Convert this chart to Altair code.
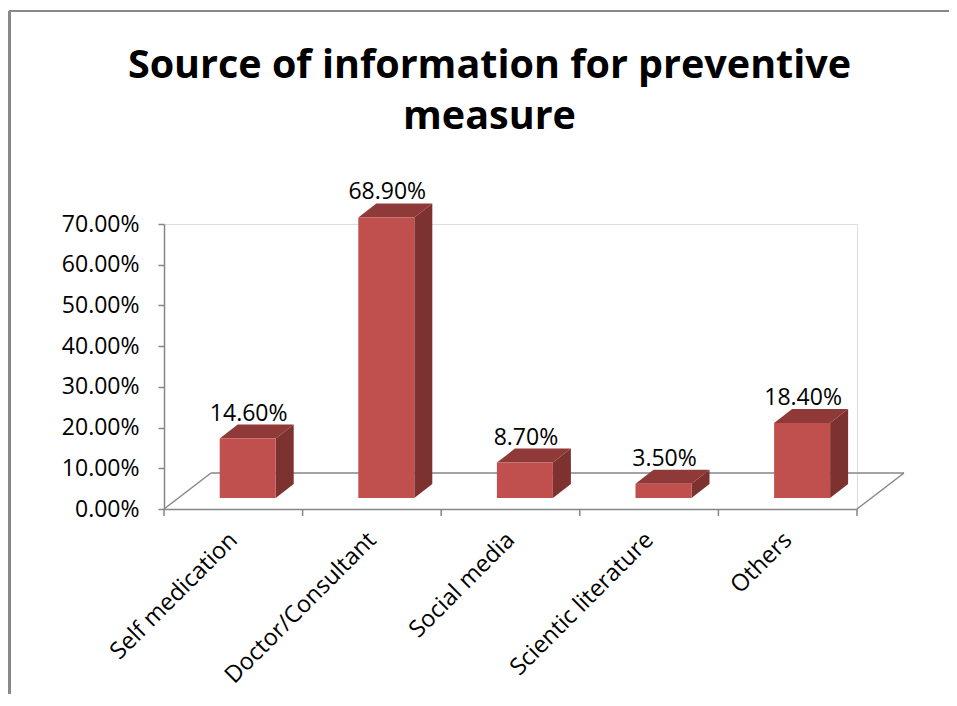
import json
import altair as alt
import pandas as pd

# ---------------- data ----------------
categories = ["Self medication", "Doctor/Consultant", "Social media",
              "Scientic literature", "Others"]
values = [0.146, 0.689, 0.087, 0.035, 0.184]
y_ticks = [0.0, 0.1, 0.2, 0.3, 0.4, 0.5, 0.6, 0.7]
title_lines = ["Source of information for preventive", "measure"]

# ---------------- layout / style ----------------
W, H = 693, 285
PAD = {"left": 156, "top": 216, "right": 92, "bottom": 185}
N = len(categories)
X_MAX, Y_MAX = N, 0.7
PX_X = W / X_MAX
PX_Y = H / Y_MAX
FONT = "Open Sans"
GRAY = "#868686"
FRONT_C, SIDE_C, TOP_C = "#C0504D", "#7E3230", "#8F3A38"

# 3-D depth vectors (pixels), converted to data units
FLOOR_DX, FLOOR_DY = 47 / PX_X, 36 / PX_Y
FRONT_DX, FRONT_DY = 14.4 / PX_X, 11 / PX_Y
SIDE_DX, SIDE_DY = 18 / PX_X, 14 / PX_Y
HALF = 28 / PX_X

df = pd.DataFrame({"category": categories, "value": values,
                   "idx": list(range(N))})

x_scale = alt.Scale(domain=[0, X_MAX], nice=False, zero=False)
y_scale = alt.Scale(domain=[0, Y_MAX], nice=False)

label_expr = json.dumps(categories) + "[floor(datum.value)]"
x_axis = alt.Axis(values=[i + 0.5 for i in range(N)], labelExpr=label_expr,
                  ticks=False, grid=False, title=None, domainColor=GRAY,
                  domainWidth=1.5, labelAngle=-45, labelAlign="right",
                  labelBaseline="middle", labelFont=FONT, labelFontSize=23.5,
                  labelColor="black", labelPadding=27, labelOverlap=False,
                  labelLimit=0)
y_axis = alt.Axis(values=y_ticks, format=".2%", grid=False, title=None,
                  domainColor=GRAY, domainWidth=1.5, tickColor=GRAY,
                  tickWidth=1.5, tickSize=6, labelFont=FONT, labelFontSize=23,
                  labelColor="black", labelPadding=19)

base = alt.Chart(df).transform_calculate(
    xl=f"datum.idx + 0.5 - {HALF} + {FRONT_DX}",
    xr=f"datum.idx + 0.5 + {HALF} + {FRONT_DX}",
    yb=f"{FRONT_DY}",
    yt=f"datum.value + {FRONT_DY}",
    cx=f"datum.idx + 0.5 + {FRONT_DX}",
)

# floor outline (back edge and the two diagonals)
floor_df = pd.DataFrame({
    "x": [FLOOR_DX, 0, X_MAX],
    "x2": [X_MAX + FLOOR_DX, FLOOR_DX, X_MAX + FLOOR_DX],
    "y": [FLOOR_DY, 0, 0],
    "y2": [FLOOR_DY, FLOOR_DY, FLOOR_DY],
})
floor = alt.Chart(floor_df).mark_rule(color=GRAY, strokeWidth=1.5).encode(
    x=alt.X("x:Q", scale=x_scale, axis=x_axis), x2="x2:Q",
    y=alt.Y("y:Q", scale=y_scale, axis=y_axis), y2="y2:Q")

ticks_df = pd.DataFrame({"t": list(range(N + 1))})
xticks = alt.Chart(ticks_df).mark_rule(color=GRAY, strokeWidth=1.5).encode(
    x=alt.X("t:Q", scale=x_scale, axis=x_axis),
    y=alt.value(H), y2=alt.value(H + 7))

front = base.mark_rect(color=FRONT_C).encode(
    x=alt.X("xl:Q", scale=x_scale, axis=x_axis), x2="xr:Q",
    y=alt.Y("yb:Q", scale=y_scale, axis=y_axis), y2="yt:Q")

side = base.transform_calculate(k="[0, 1]").transform_flatten(["k"]).transform_calculate(
    sx=f"datum.xr + datum.k * {SIDE_DX}",
    sy=f"datum.yb + datum.k * {SIDE_DY}",
    sy2=f"datum.yt + datum.k * {SIDE_DY}",
).mark_area(color=SIDE_C, opacity=1).encode(
    x=alt.X("sx:Q", scale=x_scale, axis=x_axis),
    y=alt.Y("sy:Q", scale=y_scale, axis=y_axis), y2="sy2:Q",
    detail="category:N")

top = base.transform_calculate(k="[0, 1, 2, 3]").transform_flatten(["k"]).transform_calculate(
    tx=f"[datum.xl, datum.xl + {SIDE_DX}, datum.xr, datum.xr + {SIDE_DX}][datum.k]",
    ty=f"datum.yt + [0, 0, 0, {SIDE_DY}][datum.k]",
    ty2=f"datum.yt + [0, {SIDE_DY}, {SIDE_DY}, {SIDE_DY}][datum.k]",
).mark_area(color=TOP_C, opacity=1).encode(
    x=alt.X("tx:Q", scale=x_scale, axis=x_axis),
    y=alt.Y("ty:Q", scale=y_scale, axis=y_axis), y2="ty2:Q",
    detail="category:N")

labels = base.mark_text(font=FONT, fontSize=23, color="black",
                        baseline="alphabetic", dx=1, dy=-29).encode(
    x=alt.X("cx:Q", scale=x_scale, axis=x_axis),
    y=alt.Y("value:Q", scale=y_scale, axis=y_axis),
    text=alt.Text("value:Q", format=".2%"))

border_top = alt.Chart(ticks_df).mark_rule(color="#888888", strokeWidth=2).encode(
    x=alt.value(-154.5), x2=alt.value(W + PAD["right"]), y=alt.value(-213))
border_left = alt.Chart(ticks_df).mark_rule(color="#888888", strokeWidth=2).encode(
    x=alt.value(-154.5), y=alt.value(-213), y2=alt.value(H + PAD["bottom"]))

chart = alt.layer(
    border_top, border_left, floor, xticks, side, top, front, labels
).properties(
    width=W, height=H,
    padding=PAD,
    autosize=alt.AutoSizeParams(type="none"),
    title=alt.TitleParams(text=title_lines, font=FONT, fontSize=39.5,
                          fontWeight="bold", color="black", anchor="middle",
                          frame="group", dx=-21, offset=0, dy=158,
                          lineHeight=51, baseline="alphabetic"),
).configure_view(stroke=None).configure(background="white")

chart.save("out.html", embed_options={"renderer": "svg", "actions": False})
